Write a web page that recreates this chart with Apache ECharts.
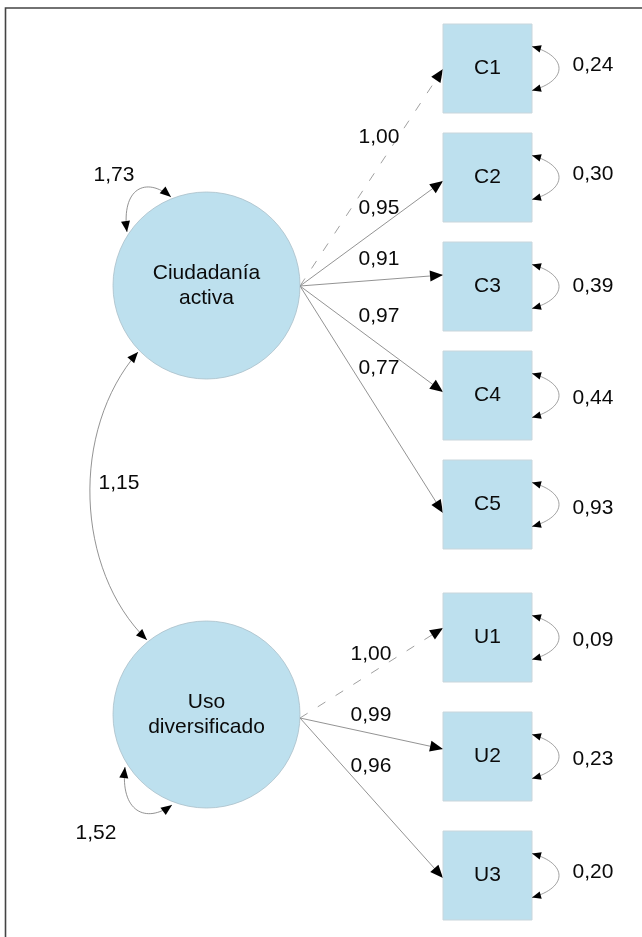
<!DOCTYPE html>
<html>
<head>
<meta charset="utf-8">
<script src="https://cdn.jsdelivr.net/npm/echarts@6/dist/echarts.min.js"></script>
<style>
html,body{margin:0;padding:0;background:#fff;}
#chart{width:642px;height:937px;}
</style>
</head>
<body>
<div id="chart"></div>
<script>
// ---------- DATA ----------
const latentNames = ['Ciudadanía\nactiva', 'Uso\ndiversificado'];
const latentVariances = [1.73, 1.52];
const factorCovariance = 1.15;
const indicatorNames = ['C1', 'C2', 'C3', 'C4', 'C5', 'U1', 'U2', 'U3'];
const indicatorFactor = [0, 0, 0, 0, 0, 1, 1, 1];
const loadings = [1.00, 0.95, 0.91, 0.97, 0.77, 1.00, 0.99, 0.96];
const loadingFixed = [true, false, false, false, false, true, false, false];
const errorVariances = [0.24, 0.30, 0.39, 0.44, 0.93, 0.09, 0.23, 0.20];

// ---------- LAYOUT (diagram space, 642 x 937) ----------
const latentCenter = [[206.5, 285.5], [206.5, 714.5]];
const latentRadius = 93.5;
const latentOut = [[300, 286], [300, 718]];
const boxLeft = 443, boxRight = 532;
const boxTop = [24, 133, 242, 351, 460, 593, 712, 831];
const boxSize = 89;
const arrowTipY = [69, 181, 275, 392, 513, 628, 749, 878];
const loadingLabelPos = [[379, 137], [379, 208], [379, 259], [379, 316], [379, 368], [371, 654], [371, 715], [371, 766]];
const errorLabelX = 593;
const errorLabelY = [65, 174, 286, 398, 508, 640, 759, 872];
const latentVarLabelPos = [[114, 175], [96, 833]];
const latentVarLoop = [
  [[127, 232], [121, 188], [146, 176], [171, 197]],
  [[125, 767], [120, 812], [146, 824], [172, 805]]
];
const covLoop = [[138, 352], [70, 430], [75, 570], [147, 640]];
const covLabelPos = [119, 483];

const FILL = '#bde0ee';
const FONT = 'Liberation Sans, Arial, sans-serif';
const fmt = v => v.toFixed(2).replace('.', ',');

function arrowHead(api, tip, from, len, half) {
  const t = api.coord(tip), f = api.coord(from);
  let dx = t[0] - f[0], dy = t[1] - f[1];
  const d = Math.hypot(dx, dy) || 1; dx /= d; dy /= d;
  const bx = t[0] - dx * len, by = t[1] - dy * len;
  return {
    type: 'polygon',
    shape: { points: [t, [bx - dy * half, by + dx * half], [bx + dy * half, by - dx * half]] },
    style: { fill: '#000' }
  };
}
function cubic(api, p, style) {
  const c = p.map(q => api.coord(q));
  return {
    type: 'bezierCurve',
    shape: { x1: c[0][0], y1: c[0][1], cpx1: c[1][0], cpy1: c[1][1], cpx2: c[2][0], cpy2: c[2][1], x2: c[3][0], y2: c[3][1] },
    style: Object.assign({ fill: null, stroke: '#777', lineWidth: 0.8 }, style || {})
  };
}
function text(api, pos, str, extra) {
  const c = api.coord(pos);
  return {
    type: 'text', x: c[0], y: c[1],
    style: Object.assign({ text: str, fill: '#0a0a0a', font: '21px ' + FONT, align: 'center', verticalAlign: 'middle' }, extra || {})
  };
}

const chart = echarts.init(document.getElementById('chart'), null, { renderer: 'canvas' });
chart.setOption({
  animation: false,
  backgroundColor: '#fff',
  grid: { left: 0, right: 0, top: 0, bottom: 0 },
  xAxis: { type: 'value', min: 0, max: 642, show: false },
  yAxis: { type: 'value', min: 0, max: 937, inverse: true, show: false },
  series: [
    // frame
    {
      type: 'custom', coordinateSystem: 'cartesian2d', data: [0], silent: true,
      renderItem: (params, api) => {
        const a = api.coord([5.5, 937]), b = api.coord([5.5, 8]), c = api.coord([642, 8]);
        return { type: 'polyline', shape: { points: [a, b, c] }, style: { stroke: '#444', lineWidth: 1.6, fill: null } };
      }
    },
    // loadings: arrows from factors to indicators
    {
      type: 'custom', coordinateSystem: 'cartesian2d', silent: true,
      data: loadings.map((v, i) => [i, v]),
      renderItem: (params, api) => {
        const i = api.value(0);
        const from = latentOut[indicatorFactor[i]];
        const tip = [boxLeft, arrowTipY[i]];
        const a = api.coord(from), b = api.coord(tip);
        const children = [
          { type: 'line', shape: { x1: a[0], y1: a[1], x2: b[0], y2: b[1] },
            style: { stroke: loadingFixed[i] ? '#888' : '#777', lineWidth: 0.8, lineDash: loadingFixed[i] ? [9, 12] : null } },
          arrowHead(api, tip, from, 13, 5.5),
          text(api, loadingLabelPos[i], fmt(api.value(1)))
        ];
        return { type: 'group', children };
      }
    },
    // indicator boxes + error variance loops
    {
      type: 'custom', coordinateSystem: 'cartesian2d', silent: true,
      data: errorVariances.map((v, i) => [i, v]),
      renderItem: (params, api) => {
        const i = api.value(0);
        const p0 = api.coord([boxLeft, boxTop[i]]), p1 = api.coord([boxRight, boxTop[i] + boxSize]);
        const cy = boxTop[i] + boxSize / 2;
        const loop = [[boxRight, cy - 22], [568, cy - 12], [568, cy + 12], [boxRight, cy + 22]];
        return {
          type: 'group', children: [
            { type: 'rect', shape: { x: p0[0], y: p0[1], width: p1[0] - p0[0], height: p1[1] - p0[1] },
              style: { fill: FILL, stroke: '#c9d6dc', lineWidth: 1 } },
            text(api, [(boxLeft + boxRight) / 2, cy], indicatorNames[i]),
            cubic(api, loop, { stroke: '#888' }),
            arrowHead(api, loop[0], loop[1], 9, 3.8),
            arrowHead(api, loop[3], loop[2], 9, 3.8),
            text(api, [errorLabelX, errorLabelY[i]], fmt(api.value(1)))
          ]
        };
      }
    },
    // latent factors + variance loops
    {
      type: 'custom', coordinateSystem: 'cartesian2d', silent: true,
      data: latentVariances.map((v, i) => [i, v]),
      renderItem: (params, api) => {
        const i = api.value(0);
        const c = api.coord(latentCenter[i]);
        const e = api.coord([latentCenter[i][0] + latentRadius, latentCenter[i][1]]);
        const L = latentVarLoop[i];
        return {
          type: 'group', children: [
            { type: 'circle', shape: { cx: c[0], cy: c[1], r: e[0] - c[0] }, style: { fill: FILL, stroke: '#a9bfc9', lineWidth: 0.8 } },
            text(api, latentCenter[i], latentNames[i], { lineHeight: 25 }),
            cubic(api, L),
            arrowHead(api, L[0], L[1], 11, 4.5),
            arrowHead(api, L[3], L[2], 11, 4.5),
            text(api, latentVarLabelPos[i], fmt(api.value(1)))
          ]
        };
      }
    },
    // factor covariance
    {
      type: 'custom', coordinateSystem: 'cartesian2d', silent: true,
      data: [[0, factorCovariance]],
      renderItem: (params, api) => ({
        type: 'group', children: [
          cubic(api, covLoop),
          arrowHead(api, covLoop[0], covLoop[1], 11, 4.5),
          arrowHead(api, covLoop[3], covLoop[2], 11, 4.5),
          text(api, covLabelPos, fmt(api.value(1)))
        ]
      })
    }
  ]
});
</script>
</body>
</html>
